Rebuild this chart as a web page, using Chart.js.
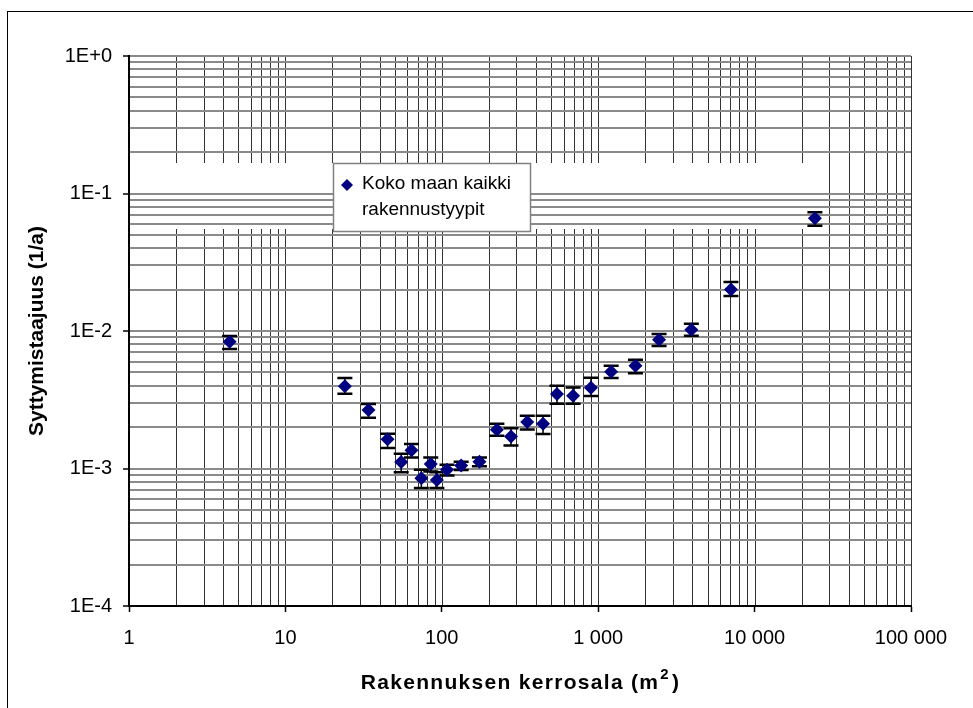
<!DOCTYPE html>
<html>
<head>
<meta charset="utf-8">
<title>Syttymistaajuus</title>
<script src="https://cdn.jsdelivr.net/npm/chart.js@4.4.1/dist/chart.umd.min.js"></script>
<style>
  html, body { margin: 0; padding: 0; background: #fff; }
  canvas { display: block; }
</style>
</head>
<body>
<canvas id="chart" width="973" height="708"></canvas>
<script>
// Floor area class (m2) and ignition frequency (1/a) with its error range
const areas = [4.4, 24, 34, 45, 55, 64, 74, 85, 93, 108, 133, 174, 225, 277, 352, 444, 545, 691, 899, 1210, 1730, 2450, 3940, 7060, 24300];
const rates = [8.35e-3, 3.97e-3, 2.66e-3, 1.63e-3, 1.115e-3, 1.36e-3, 8.5e-4, 1.08e-3, 8.25e-4, 9.8e-4, 1.05e-3, 1.12e-3, 1.915e-3, 1.71e-3, 2.18e-3, 2.12e-3, 3.48e-3, 3.38e-3, 3.87e-3, 5.06e-3, 5.59e-3, 8.64e-3, 1.022e-2, 2.0e-2, 6.62e-2];
const rateLow = [7.4e-3, 3.5e-3, 2.34e-3, 1.41e-3, 9.4e-4, 1.2e-3, 7.2e-4, 9.5e-4, 7.2e-4, 8.9e-4, 9.75e-4, 1.04e-3, 1.73e-3, 1.47e-3, 1.92e-3, 1.78e-3, 2.96e-3, 2.96e-3, 3.37e-3, 4.55e-3, 4.92e-3, 7.78e-3, 9.24e-3, 1.8e-2, 5.82e-2];
const rateHigh = [9.2e-3, 4.56e-3, 2.94e-3, 1.79e-3, 1.28e-3, 1.51e-3, 9.8e-4, 1.2e-3, 9.4e-4, 1.065e-3, 1.12e-3, 1.2e-3, 2.12e-3, 1.96e-3, 2.42e-3, 2.42e-3, 4.0e-3, 3.89e-3, 4.57e-3, 5.59e-3, 6.18e-3, 9.51e-3, 1.13e-2, 2.27e-2, 7.31e-2];

const xTickLabels = ['1', '10', '100', '1 000', '10 000', '100 000'];
const yTickLabels = ['1E-4', '1E-3', '1E-2', '1E-1', '1E+0'];
const legendLines = ['Koko maan kaikki', 'rakennustyypit'];
// x title: main text, superscript, closing part
const xTitleParts = ['Rakennuksen kerrosala (m', '2', ')'];

const FONT = '"Liberation Sans", Arial, sans-serif';
Chart.defaults.font.family = FONT;
Chart.defaults.color = '#000';

// 1..9 steps in every decade, decade starts flagged as major
function logTicks(minExp, maxExp) {
  const ticks = [];
  for (let e = minExp; e < maxExp; e++) {
    for (let m = 1; m < 10; m++) {
      ticks.push({ value: +(m * Math.pow(10, e)).toPrecision(6), major: m === 1 });
    }
  }
  ticks.push({ value: Math.pow(10, maxExp), major: true });
  return ticks;
}

const majorTickColor = ctx => (ctx.tick && ctx.tick.major ? '#000' : 'rgba(0,0,0,0)');

// page frame + vertical grid lines (they break across the legend row)
const frameAndGrid = {
  id: 'frameAndGrid',
  beforeDraw(chart) {
    const { ctx, chartArea: a, scales: { x } } = chart;
    ctx.save();
    ctx.fillStyle = '#fff';
    ctx.fillRect(0, 0, chart.width, chart.height);
    ctx.strokeStyle = '#000';
    ctx.lineWidth = 1;
    ctx.strokeRect(7.5, 11.5, chart.width + 20, chart.height + 20);

    const gapTop = a.top + 107, gapBottom = a.top + 173, gapRight = a.left + 686;
    ctx.strokeStyle = '#333';
    x.ticks.forEach(t => {
      const px = Math.round(x.getPixelForValue(t.value)) + 0.5;
      ctx.beginPath();
      if (px < gapRight) {
        ctx.moveTo(px, a.top);
        ctx.lineTo(px, gapTop);
        ctx.moveTo(px, gapBottom);
        ctx.lineTo(px, a.bottom);
      } else {
        ctx.moveTo(px, a.top);
        ctx.lineTo(px, a.bottom);
      }
      ctx.stroke();
    });
    ctx.restore();
  }
};

// error bars with caps, under the markers
const errorBars = {
  id: 'errorBars',
  beforeDatasetsDraw(chart) {
    const { ctx, scales: { x, y } } = chart;
    ctx.save();
    ctx.strokeStyle = '#000';
    areas.forEach((area, i) => {
      const px = x.getPixelForValue(area);
      const top = y.getPixelForValue(rateHigh[i]);
      const bot = y.getPixelForValue(rateLow[i]);
      ctx.lineWidth = 1.5;
      ctx.beginPath();
      ctx.moveTo(px, top);
      ctx.lineTo(px, bot);
      ctx.stroke();
      ctx.lineWidth = 2.5;
      ctx.beginPath();
      ctx.moveTo(px - 7.5, top);
      ctx.lineTo(px + 7.5, top);
      ctx.moveTo(px - 7.5, bot);
      ctx.lineTo(px + 7.5, bot);
      ctx.stroke();
    });
    ctx.restore();
  }
};

// boxed legend inside the plot
const boxLegend = {
  id: 'boxLegend',
  afterDatasetsDraw(chart) {
    const { ctx, chartArea: a } = chart;
    const ds = chart.data.datasets[0];
    const bx = a.left + 204, by = a.top + 107;
    ctx.save();
    ctx.fillStyle = '#fff';
    ctx.fillRect(bx, by, 198, 69);
    ctx.strokeStyle = '#808080';
    ctx.lineWidth = 1.5;
    ctx.strokeRect(bx + 0.5, by + 0.5, 197, 68);
    ctx.fillStyle = ds.backgroundColor;
    Chart.helpers.drawPoint(ctx, { pointStyle: 'rectRot', radius: 6, borderWidth: 0 }, bx + 14, by + 22);
    ctx.fillStyle = '#000';
    ctx.font = '19px ' + FONT;
    ctx.textBaseline = 'middle';
    legendLines.forEach((line, i) => ctx.fillText(line, bx + 29, by + 21 + i * 26));
    ctx.restore();
  }
};

// spaced bold x-axis title with a raised "2"
const xTitle = {
  id: 'xTitle',
  afterDraw(chart) {
    const { ctx, chartArea: a } = chart;
    const main = 'bold 21px ' + FONT, sup = 'bold 15px ' + FONT;
    ctx.save();
    ctx.fillStyle = '#000';
    ctx.textBaseline = 'middle';
    ctx.textAlign = 'left';
    ctx.letterSpacing = '1.3px';
    ctx.font = main;
    const w0 = ctx.measureText(xTitleParts[0]).width;
    const w2 = ctx.measureText(xTitleParts[2]).width;
    ctx.font = sup;
    const w1 = ctx.measureText(xTitleParts[1]).width + 2;
    let tx = (a.left + a.right) / 2 - (w0 + w1 + w2) / 2;
    const ty = 683;
    ctx.font = main;
    ctx.fillText(xTitleParts[0], tx, ty);
    tx += w0 + 1;
    ctx.font = sup;
    ctx.fillText(xTitleParts[1], tx, ty - 8);
    tx += w1;
    ctx.font = main;
    ctx.fillText(xTitleParts[2], tx, ty);
    ctx.restore();
  }
};

new Chart(document.getElementById('chart'), {
  type: 'scatter',
  data: {
    datasets: [{
      label: legendLines.join(' '),
      data: areas.map((a, i) => ({ x: a, y: rates[i] })),
      pointStyle: 'rectRot',
      pointRadius: 7,
      pointHoverRadius: 7,
      backgroundColor: '#000080',
      borderColor: '#000080',
      borderWidth: 0,
      showLine: false
    }]
  },
  options: {
    responsive: false,
    animation: false,
    devicePixelRatio: 1,
    layout: { padding: { top: 56, right: 62, left: 0, bottom: 0 } },
    plugins: {
      legend: { display: false },
      tooltip: { enabled: false }
    },
    scales: {
      x: {
        type: 'logarithmic',
        min: 1,
        max: 100000,
        afterBuildTicks: scale => { scale.ticks = logTicks(0, 5); },
        afterFit: scale => { scale.height = 102; },
        ticks: {
          autoSkip: false,
          maxRotation: 0,
          minRotation: 0,
          padding: 14,
          font: { size: 20 },
          callback: (value, index, ticks) =>
            ticks[index].major ? xTickLabels[Math.round(Math.log10(value))] : ''
        },
        grid: {
          color: 'rgba(0,0,0,0)',
          tickColor: majorTickColor,
          tickLength: 6,
          tickWidth: 1.5
        },
        border: { color: '#000', width: 2 },
        title: { display: false }
      },
      y: {
        type: 'logarithmic',
        min: 0.0001,
        max: 1,
        afterBuildTicks: scale => { scale.ticks = logTicks(-4, 0); },
        afterFit: scale => { scale.width = 129; },
        ticks: {
          autoSkip: false,
          padding: 11,
          font: { size: 20 },
          callback: (value, index, ticks) =>
            ticks[index].major ? yTickLabels[Math.round(Math.log10(value)) + 4] : ''
        },
        grid: {
          color: '#8a8a8a',
          lineWidth: 2,
          tickColor: majorTickColor,
          tickLength: 6,
          tickWidth: 1.5
        },
        border: { color: '#000', width: 2 },
        title: {
          display: true,
          text: 'Syttymistaajuus (1/a)',
          font: { size: 21, weight: 'bold' },
          padding: { top: 25, bottom: 0 }
        }
      }
    }
  },
  plugins: [frameAndGrid, errorBars, boxLegend, xTitle]
});
</script>
</body>
</html>
